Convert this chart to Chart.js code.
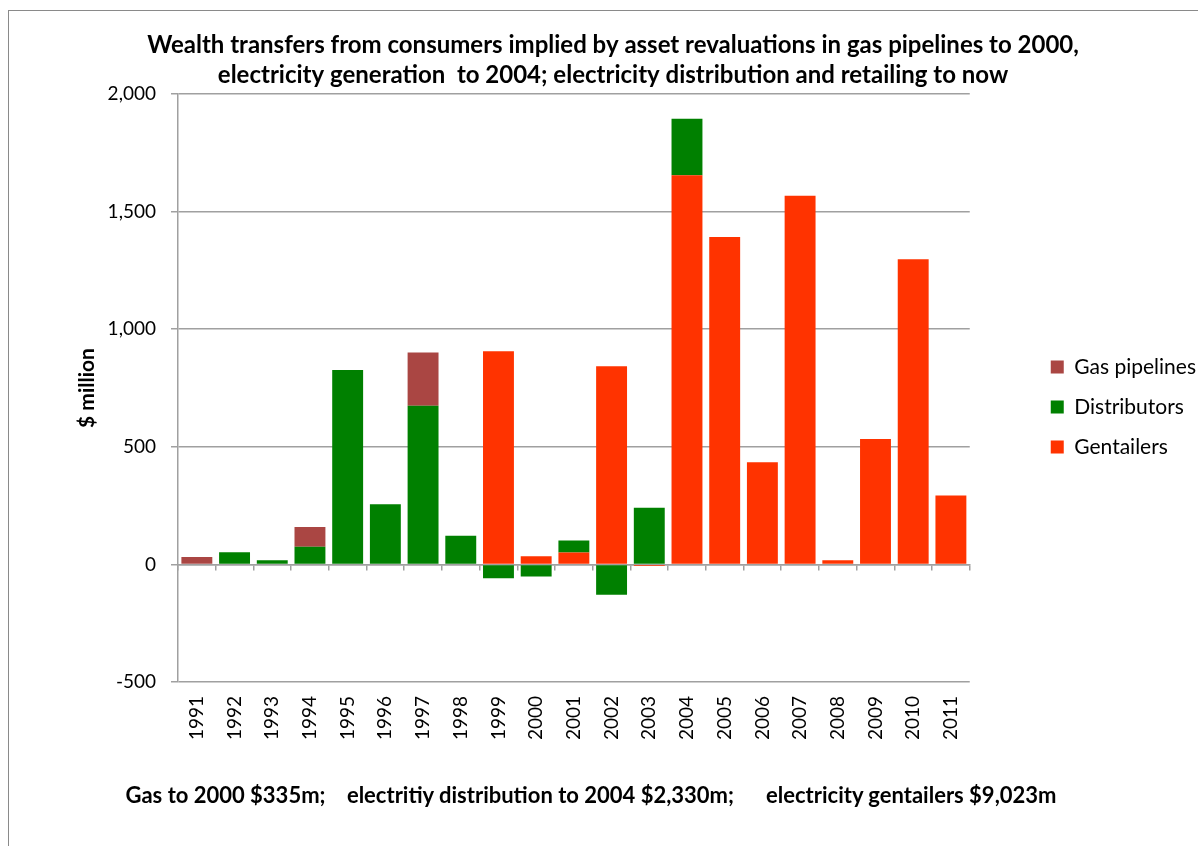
<!DOCTYPE html>
<html>
<head>
<meta charset="utf-8">
<title>Wealth transfers from consumers</title>
<script src="https://cdn.jsdelivr.net/npm/chart.js@4.4.1/dist/chart.umd.min.js"></script>
<style>
  html, body { margin: 0; padding: 0; background: #fff; overflow: hidden; }
  #wrap { position: relative; width: 1198px; height: 846px; }
  #frame { position: absolute; left: 8px; top: 10px; width: 1400px; height: 1000px; border: 1px solid #8a8a8a; }
  #chart { position: absolute; left: 0; top: 0; }
  #totals {
    position: absolute; left: 0; top: 781px; width: 1182px; text-align: center;
    font: bold 22px Lato, sans-serif; color: #000; white-space: pre;
  }
</style>
</head>
<body>
<div id="wrap">
  <div id="frame"></div>
  <canvas id="chart" width="1198" height="846"></canvas>
  <div id="totals">Gas to 2000 $335m;    electritiy distribution to 2004 $2,330m;      electricity gentailers $9,023m</div>
</div>
<script>
const years = ['1991', '1992', '1993', '1994', '1995', '1996', '1997', '1998', '1999', '2000', '2001',
  '2002', '2003', '2004', '2005', '2006', '2007', '2008', '2009', '2010', '2011'];

// $ million
const gasPipelines = [31, null, null, 84, null, null, 226, null, null, null, null,
  null, null, null, null, null, null, null, null, null, null];
const distributors = [null, 52, 18, 75, 826, 256, 675, 122, -59, -51, 51,
  -129, 241, 240, null, null, null, null, null, null, null];
const gentailers = [null, null, null, null, null, null, null, null, 906, 35, 51,
  843, -7, 1655, 1392, 434, 1567, 18, 533, 1297, 293];

const yTicks = [-500, 0, 500, 1000, 1500, 2000];

const gridGrey = '#a0a0a0';
const font = 'Lato';

new Chart(document.getElementById('chart'), {
  type: 'bar',
  data: {
    labels: years,
    datasets: [
      { label: 'Gentailers', data: gentailers, backgroundColor: '#FF3300' },
      { label: 'Distributors', data: distributors, backgroundColor: '#008000' },
      { label: 'Gas pipelines', data: gasPipelines, backgroundColor: '#AA4643' }
    ]
  },
  options: {
    responsive: false,
    animation: false,
    devicePixelRatio: 1,
    categoryPercentage: 1,
    barPercentage: 0.82,
    layout: { padding: { left: 20, right: -8, top: 0, bottom: 32 } },
    plugins: {
      tooltip: { enabled: false },
      title: {
        display: true,
        text: ['Wealth transfers from consumers implied by asset revaluations in gas pipelines to 2000,',
               'electricity generation  to 2004; electricity distribution and retailing to now'],
        color: '#000',
        font: { family: font, size: 24, weight: 'bold', lineHeight: 1.25 },
        padding: { top: 30, bottom: 4 }
      },
      legend: {
        position: 'right',
        reverse: true,
        labels: {
          color: '#000',
          font: { family: font, size: 21 },
          boxWidth: 13,
          boxHeight: 13,
          padding: 19
        }
      }
    },
    scales: {
      x: {
        stacked: true,
        grid: { display: false, drawTicks: false },
        border: { display: false },
        ticks: {
          color: '#000',
          font: { family: font, size: 19 },
          minRotation: 90,
          maxRotation: 90,
          autoSkip: false,
          padding: 14
        },
        afterFit: (s) => { s.height = 132; }
      },
      zeroLine: {
        type: 'category',
        axis: 'x',
        position: { y: 0 },
        offset: true,
        grid: { offset: true, drawOnChartArea: false, tickLength: 5, color: gridGrey, lineWidth: 1.5 },
        border: { color: gridGrey, width: 1.5 },
        ticks: { display: false }
      },
      y: {
        stacked: true,
        min: -500,
        max: 2000,
        afterBuildTicks: (s) => { s.ticks = yTicks.map(v => ({ value: v })); },
        grid: { color: gridGrey, lineWidth: 1.5, tickLength: 7 },
        border: { color: gridGrey, width: 1.5 },
        ticks: {
          color: '#000',
          font: { family: font, size: 19 },
          padding: 15,
          callback: (v) => Number(v).toLocaleString('en-US')
        },
        title: {
          display: true,
          text: '$ million',
          color: '#000',
          font: { family: font, size: 21, weight: 'bold' },
          padding: { top: 55, bottom: 0 }
        },
        afterFit: (s) => { s.width = 158; }
      },
      gap: {
        type: 'linear',
        axis: 'y',
        position: 'right',
        grid: { display: false },
        border: { display: false },
        ticks: { display: false },
        afterFit: (s) => { s.width = 62; }
      }
    }
  }
});
</script>
</body>
</html>
